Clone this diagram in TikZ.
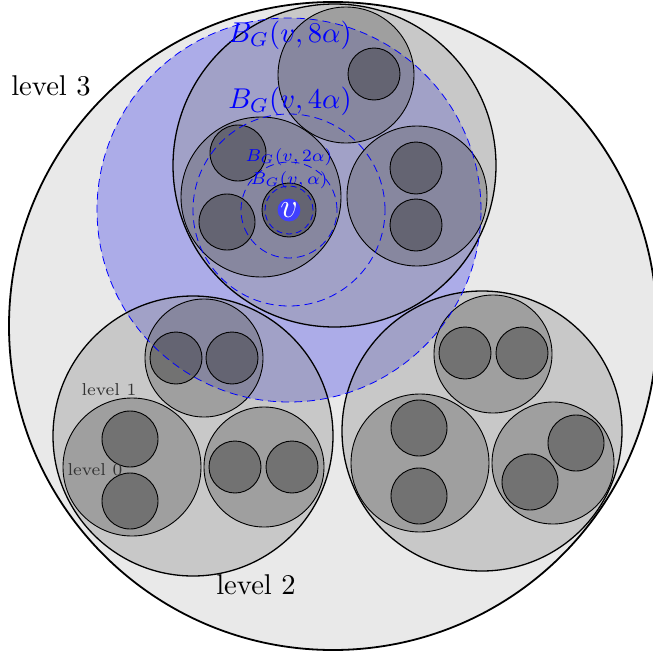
\RequirePackage{fix-cm}
\documentclass[tikz,border=0pt]{standalone}
\usepackage{graphicx}
\definecolor{bgthree}{RGB}{233,233,233}
\definecolor{gtwo}{RGB}{143,143,143}
\definecolor{gone}{RGB}{93,93,93}
\definecolor{gzero}{RGB}{48,48,48}
\definecolor{ballblue}{RGB}{10,10,230}
\newcommand{\bigsc}[1]{\scalebox{2.86}{\normalsize #1}}
\newcommand{\smallsc}[1]{\scalebox{2.46}{\scriptsize #1}}
\begin{document}
\begin{tikzpicture}[x=1pt,y=-1pt,
  lvthree/.style={fill=bgthree, draw=black, line width=1.8pt},
  lvtwo/.style={fill=gtwo, fill opacity=0.365, draw=black, draw opacity=1, line width=1.3pt},
  lvone/.style={fill=gone, fill opacity=0.375, draw=black, draw opacity=1, line width=0.9pt},
  lvzero/.style={fill=gzero, fill opacity=0.4, draw=black, draw opacity=1, line width=0.9pt},
  ballfill/.style={fill=ballblue, fill opacity=0.27},
  balldash/.style={draw=blue, line width=0.8pt, dash pattern=on 8pt off 5pt},
  txt/.style={inner sep=0pt},
  bluetxt/.style={text=blue}
]
\useasboundingbox (0,0) rectangle (653,653);
% level 3
\draw[lvthree] (333,326) circle[radius=324pt];
% blue ball 8alpha
\fill[ballfill] (289,210) circle[radius=192pt];
% level 2
\draw[lvtwo] (334.5,165.5) circle[radius=161.5pt];
\draw[lvtwo] (193,436) circle[radius=140pt];
\draw[lvtwo] (482,431) circle[radius=140pt];
% level 1 (top cluster)
\draw[lvone] (346,75) circle[radius=68pt];
\draw[lvone] (261,197) circle[radius=80pt];
\draw[lvone] (417,196) circle[radius=70pt];
% level 1 (bottom-left cluster)
\draw[lvone] (204,358) circle[radius=59pt];
\draw[lvone] (132,467) circle[radius=69pt];
\draw[lvone] (264,467) circle[radius=60pt];
% level 1 (bottom-right cluster)
\draw[lvone] (493,354) circle[radius=59pt];
\draw[lvone] (420,463) circle[radius=69pt];
\draw[lvone] (553,463) circle[radius=61pt];
% level 0
\draw[lvzero] (374,74) circle[radius=26pt];
\draw[lvzero] (238,153) circle[radius=28pt];
\draw[lvzero] (227,222) circle[radius=28pt];
\draw[lvzero] (289,210) circle[radius=27pt];
\draw[lvzero] (416,168) circle[radius=26pt];
\draw[lvzero] (416,225) circle[radius=26pt];
\draw[lvzero] (176,358) circle[radius=26pt];
\draw[lvzero] (232,358) circle[radius=26pt];
\draw[lvzero] (130,439) circle[radius=28pt];
\draw[lvzero] (130,501) circle[radius=28pt];
\draw[lvzero] (235,467) circle[radius=26pt];
\draw[lvzero] (292,467) circle[radius=26pt];
\draw[lvzero] (465,353) circle[radius=26pt];
\draw[lvzero] (522,353) circle[radius=26pt];
\draw[lvzero] (419,428) circle[radius=28pt];
\draw[lvzero] (419,496) circle[radius=28pt];
\draw[lvzero] (576,443) circle[radius=28pt];
\draw[lvzero] (530,482) circle[radius=28pt];
% dashed balls
\draw[balldash] (289,210) circle[radius=192pt];
\draw[balldash] (289,210) circle[radius=96pt];
\draw[balldash] (289,210) circle[radius=48pt];
\draw[balldash, dash pattern=on 6pt off 4pt] (289,210) circle[radius=24pt];
% labels
\node[txt] (l3) at (51,86) {\bigsc{level 3}};
\node[txt] (l2) at (256,585) {\bigsc{level 2}};
\node[txt, text=black!80] (l1) at (109,390) {\smallsc{level 1}};
\node[txt, text=black!80] (l0) at (95,470) {\smallsc{level 0}};
\node[txt, bluetxt] (b8) at (290,35) {\bigsc{$B_G(v,8\alpha)$}};
\node[txt, bluetxt] (b4) at (290,101) {\bigsc{$B_G(v,4\alpha)$}};
\node[txt, bluetxt] (b2) at (289,157) {\smallsc{$B_G(v,2\alpha)$}};
\node[txt, bluetxt] (b1) at (289,180) {\smallsc{$B_G(v,\alpha)$}};
\node[circle, fill=blue!75!white, minimum size=21pt, inner sep=0pt, text=white] (v) at (289,210) {\scalebox{2.86}{\large $v$}};
\end{tikzpicture}
\end{document}
